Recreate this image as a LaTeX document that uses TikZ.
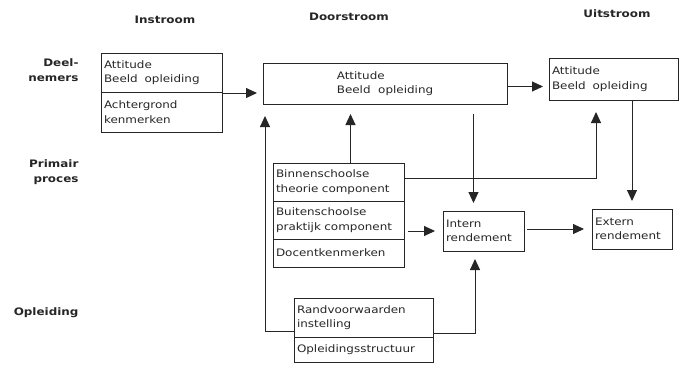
\documentclass[tikz,border=0pt]{standalone}
\usepackage{fontspec}
\setmainfont[FakeStretch=1.16]{DejaVu Sans}
\usetikzlibrary{arrows.meta,positioning,calc}
\definecolor{inkc}{HTML}{262626}

\begin{document}
\begin{tikzpicture}[x=1pt, y=-1pt, font=\fontsize{10.3}{14.5}\selectfont, inkc,
  cell/.style={draw=inkc, line width=1pt, anchor=north west, align=left, inner xsep=3pt, inner ysep=0pt, outer sep=0pt},
  arr/.style={draw=inkc, line width=1pt, -{Triangle[length=11pt,width=10pt]}, shorten >=8pt},
  head/.style={font=\fontsize{10.3}{13}\selectfont\bfseries},
  rowlab/.style={font=\fontsize{10.3}{15}\selectfont\bfseries, anchor=east, align=right}]
\useasboundingbox (0,0) rectangle (684,367);

% column heads and row labels sit outside the boxes
\node[head] (hin)   at (165,20) {Instroom};
\node[head] (hdoor) at (349,17) {Doorstroom};
\node[head] (huit)  at (617,14) {Uitstroom};
\node[rowlab] (ldeel) at (82,70)  {Deel-\\nemers};
\node[rowlab] (lproc) at (82,172) {Primair\\proces};
\node[rowlab] (lopl)  at (82,313) {Opleiding};

% ---- deelnemers : in, door, uit ----
\node[cell, text width=115pt, minimum height=39pt] (A1) at (101,53) {Attitude\\Beeld~ opleiding};
\node[cell, text width=115pt, minimum height=40pt] (A2) at (A1.south west) {Achtergrond\\kenmerken};
\node[cell, minimum width=244pt, minimum height=41pt] (B) at (263,63) {Attitude\\Beeld~ opleiding};
\node[cell, text width=123pt, minimum height=42pt] (C) at (549,58) {Attitude\\Beeld~ opleiding};

% ---- primair proces ----
\node[cell, text width=125pt, minimum height=38pt] (D1) at (273,163) {Binnenschoolse\\theorie component};
\node[cell, text width=125pt, minimum height=38pt] (D2) at (D1.south west) {Buitenschoolse\\praktijk component};
\node[cell, text width=125pt, minimum height=28pt] (D3) at (D2.south west) {Docentkenmerken};
\node[cell, text width=75pt, minimum height=40pt] (F) at (443,211) {Intern\\rendement};
\node[cell, text width=74pt, minimum height=40pt] (G) at (592,209) {Extern\\rendement};

% ---- opleiding ----
\node[cell, text width=133pt, minimum height=39pt] (E1) at (294,298) {Randvoorwaarden\\instelling};
\node[cell, text width=133pt, minimum height=25pt] (E2) at (E1.south west) {Opleidingsstructuur};

% ---- connectors ----
\draw[arr, shorten >=6pt] ([yshift=-1pt]A1.south east) -- ([yshift=-1pt]A1.south east -| B.west);
\draw[arr, shorten >=6pt] ([yshift=-3pt]B.east) -- ([yshift=-3pt]B.east -| C.west);
\draw[arr, shorten >=12pt] ([yshift=6pt]E1.south west) -| ([xshift=2pt]B.south west);
\draw[arr, shorten >=10pt] ([xshift=12pt]D1.north) -- ([xshift=12pt]D1.north |- B.south);
\draw[arr, shorten <=10pt] ([xshift=-10pt]F.north |- B.south) -- ([xshift=-10pt]F.north);
\draw[arr, shorten >=12pt] ([yshift=4pt]D1.east) -| ([xshift=-17.5pt]C.south);
\draw[arr] (G.north |- C.south) -- (G.north);
\draw[arr, shorten <=4pt] (F.west -| D2.east) -- (F.west);
\draw[arr, shorten <=3pt] ([yshift=2pt]F.east) -- ([yshift=2pt]F.east -| G.west);
\draw[arr] ([yshift=4pt]E1.south east) -| ([xshift=-8.5pt]F.south);
\end{tikzpicture}
\end{document}
